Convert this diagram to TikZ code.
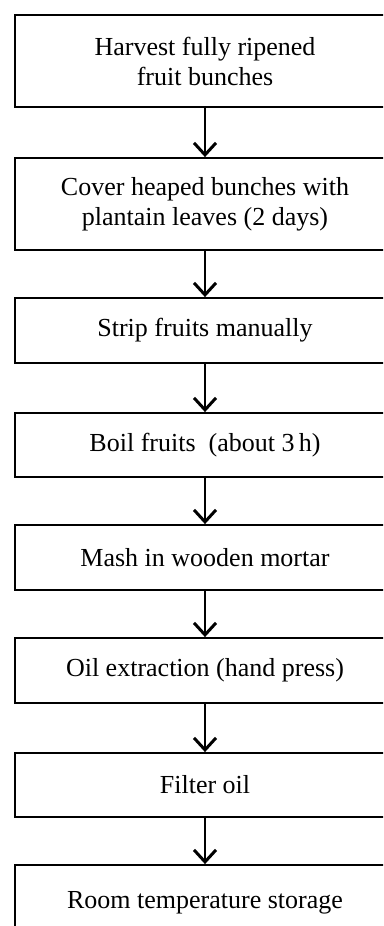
\documentclass[tikz,border=0pt]{standalone}
\usepackage{fontspec}
\setmainfont{Liberation Serif}
\usetikzlibrary{arrows.meta}
\begin{document}
\begin{tikzpicture}[x=1pt,y=-1pt,
  stepbox/.style={draw=black,line width=1.8pt,rectangle,minimum width=380pt,inner sep=0pt,align=center,
    font=\fontsize{26}{30}\selectfont},
  flow/.style={line width=2.8pt,-{Straight Barb[length=12pt,width=22pt,line width=3pt]}}]
\useasboundingbox (0,0) rectangle (383,926);
\clip (0,0) rectangle (383,926);
\node[stepbox,minimum height=92pt] (b1) at (205,61) {Harvest fully ripened\\fruit bunches};
\node[stepbox,minimum height=92pt] (b2) at (205,204) {Cover heaped bunches with\\plantain leaves (2 days)};
\node[stepbox,minimum height=65pt] (b3) at (205,330.5) {Strip fruits manually};
\node[stepbox,minimum height=64pt] (b4) at (205,445) {Boil fruits\ \ (about 3\,h)};
\node[stepbox,minimum height=65pt] (b5) at (205,557.5) {Mash in wooden mortar};
\node[stepbox,minimum height=65pt] (b6) at (205,670.5) {Oil extraction (hand press)};
\node[stepbox,minimum height=64pt] (b7) at (205,785) {Filter oil};
\node[stepbox,minimum height=76pt] (b8) at (205,903) {Room temperature storage};
\draw[flow] (b1.south) -- (b2.north);
\draw[flow] (b2.south) -- (b3.north);
\draw[flow] (b3.south) -- (b4.north);
\draw[flow] (b4.south) -- (b5.north);
\draw[flow] (b5.south) -- (b6.north);
\draw[flow] (b6.south) -- (b7.north);
\draw[flow] (b7.south) -- (b8.north);
\end{tikzpicture}
\end{document}
